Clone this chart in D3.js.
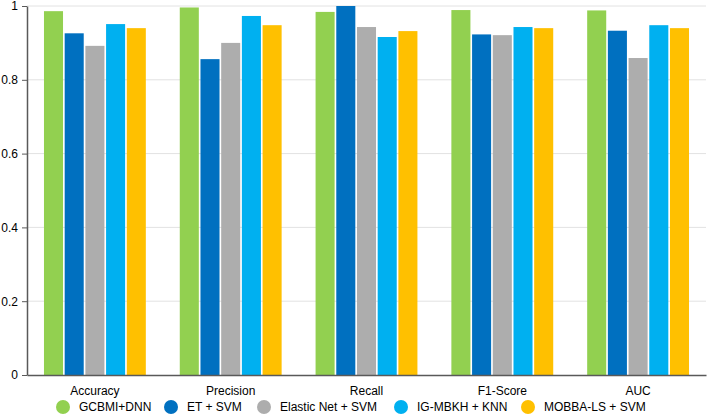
<!DOCTYPE html>
<html>
<head>
<meta charset="utf-8">
<script src="https://cdn.jsdelivr.net/npm/d3@7"></script>
<style>
  body { margin: 0; background: #fff; }
  text { font-family: "Liberation Sans", Arial, sans-serif; }
</style>
</head>
<body>
<svg id="chart" width="708" height="417"></svg>
<script>
const metrics = ["Accuracy", "Precision", "Recall", "F1-Score", "AUC"];
const methods = ["GCBMI+DNN", "ET + SVM", "Elastic Net + SVM", "IG-MBKH + KNN", "MOBBA-LS + SVM"];
const colors = ["#92D050", "#0070C0", "#ADADAD", "#00B0F0", "#FFC000"];

const gcbmiDnn  = [0.986, 0.996, 0.984, 0.989, 0.988];
const etSvm     = [0.926, 0.856, 1.000, 0.923, 0.933];
const elasticNet = [0.892, 0.900, 0.943, 0.921, 0.859];
const igMbkh    = [0.951, 0.973, 0.916, 0.943, 0.948];
const mobbaLs   = [0.940, 0.948, 0.932, 0.940, 0.940];
const yTicks = [0, 0.2, 0.4, 0.6, 0.8, 1];

const seriesValues = [gcbmiDnn, etSvm, elasticNet, igMbkh, mobbaLs];

const svg = d3.select("#chart");
const margin = { top: 6, right: 2, bottom: 42, left: 27 };
const width = +svg.attr("width");
const height = +svg.attr("height");
const plotWidth = width - margin.left - margin.right;
const plotHeight = height - margin.top - margin.bottom;

const g = svg.append("g")
  .attr("transform", `translate(${margin.left},${margin.top})`);

const x0 = d3.scaleBand().domain(metrics).range([0, plotWidth]).padding(0);
const x1 = d3.scaleBand().domain(methods)
  .range([x0.bandwidth() * 0.125, x0.bandwidth() * 0.875])
  .paddingInner(0.08);
const y = d3.scaleLinear().domain([0, 1]).range([plotHeight, 0]);
const color = d3.scaleOrdinal().domain(methods).range(colors);

// gridlines
g.append("g")
  .selectAll("line")
  .data(yTicks.filter(t => t > 0))
  .join("line")
  .attr("x1", 0)
  .attr("x2", plotWidth)
  .attr("y1", d => y(d))
  .attr("y2", d => y(d))
  .attr("stroke", "#e2e2e2")
  .attr("stroke-width", 1);

// y axis
const yAxis = g.append("g")
  .call(d3.axisLeft(y).tickValues(yTicks).tickSizeInner(5).tickSizeOuter(0).tickPadding(4).tickFormat(d3.format("~g")));
yAxis.select(".domain").attr("stroke", "#595959").attr("stroke-width", 1.5);
yAxis.selectAll(".tick line").attr("stroke", "#595959");
yAxis.selectAll("text").attr("font-size", 12).attr("fill", "#000")
  .style("font-family", "'Liberation Sans', Arial, sans-serif");

// bars
const rows = metrics.map((m, i) => ({
  metric: m,
  values: methods.map((s, j) => ({ method: s, value: seriesValues[j][i] }))
}));

g.append("g")
  .selectAll("g")
  .data(rows)
  .join("g")
  .attr("transform", d => `translate(${x0(d.metric)},0)`)
  .selectAll("rect")
  .data(d => d.values)
  .join("rect")
  .attr("x", d => x1(d.method))
  .attr("y", d => y(d.value))
  .attr("width", x1.bandwidth())
  .attr("height", d => y(0) - y(d.value))
  .attr("fill", d => color(d.method));

// x axis
const xAxis = g.append("g")
  .attr("transform", `translate(0,${plotHeight})`)
  .call(d3.axisBottom(x0).tickSize(0).tickPadding(11));
xAxis.select(".domain").attr("stroke", "#595959").attr("stroke-width", 1.5);
xAxis.selectAll("text").attr("font-size", 12).attr("fill", "#000")
  .style("font-family", "'Liberation Sans', Arial, sans-serif");

// legend
const legendX = [63, 171, 264, 401, 528];
const legend = svg.append("g")
  .selectAll("g")
  .data(methods)
  .join("g")
  .attr("transform", (d, i) => `translate(${legendX[i]},407)`);

legend.append("circle")
  .attr("r", 7)
  .attr("fill", d => color(d));

legend.append("text")
  .attr("x", 16)
  .attr("dy", "0.35em")
  .attr("font-size", 12)
  .attr("fill", "#000")
  .text(d => d);
</script>
</body>
</html>
